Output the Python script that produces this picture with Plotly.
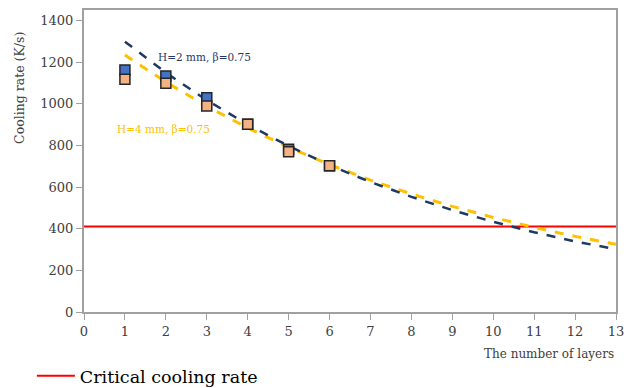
import plotly.graph_objects as go

layers = [1, 2, 3, 4, 5, 6]
h2_points = [1162, 1133, 1029, 902, 782, 702]
h4_points = [1117, 1098, 989, 902, 770, 702]

fit_x = [1, 2, 3, 4, 5, 6, 7, 8, 9, 10, 11, 12, 13]
h2_fit = [1298, 1149, 1017, 900, 797, 705, 624, 553, 489, 433, 383, 339, 301]
h4_fit = [1234, 1104, 988, 884, 791, 708, 633, 567, 507, 454, 406, 363, 325]

critical_x = [0, 13]
critical_rate = [410, 410]

FONT = "DejaVu Serif"
GRAY = "#404040"

fig = go.Figure()
fig.add_trace(go.Scatter(x=critical_x, y=critical_rate, mode="lines",
                         line=dict(color="#FF0000", width=2),
                         name="Critical cooling rate", showlegend=True))
fig.add_trace(go.Scatter(x=fit_x, y=h4_fit, mode="lines",
                         line=dict(color="#FFC000", width=3, dash="dash"),
                         showlegend=False))
fig.add_trace(go.Scatter(x=fit_x, y=h2_fit, mode="lines",
                         line=dict(color="#1F3864", width=2.5, dash="dash"),
                         showlegend=False))
fig.add_trace(go.Scatter(x=layers, y=h2_points, mode="markers",
                         marker=dict(symbol="square", size=10, color="#4472C4",
                                     line=dict(color="#262626", width=1.5)),
                         showlegend=False))
fig.add_trace(go.Scatter(x=layers, y=h4_points, mode="markers",
                         marker=dict(symbol="square", size=10, color="#F4B183",
                                     line=dict(color="#262626", width=1.5)),
                         showlegend=False))

fig.add_annotation(x=1.75, y=1224, xref="x", yref="y", text="H=2 mm, β=0.75",
                   showarrow=False, xanchor="left",
                   font=dict(family=FONT, size=10.5, color="#1F3864"))
fig.add_annotation(x=0.76, y=878, xref="x", yref="y", text="H=4 mm, β=0.75",
                   showarrow=False, xanchor="left",
                   font=dict(family=FONT, size=10.5, color="#FFC000"))
fig.add_annotation(x=1.0, y=-0.139, xref="paper", yref="paper",
                   text="The number of layers", showarrow=False,
                   xanchor="right", yanchor="middle",
                   font=dict(family=FONT, size=12, color=GRAY))
fig.add_annotation(x=-0.1203, y=0.742, xref="paper", yref="paper",
                   text="Cooling rate (K/s)", showarrow=False, textangle=-90,
                   xanchor="center", yanchor="middle",
                   font=dict(family=FONT, size=12.5, color=GRAY))

fig.update_layout(
    width=625, height=380,
    margin=dict(l=76, r=17, t=2, b=76, autoexpand=False),
    paper_bgcolor="white", plot_bgcolor="white",
    font=dict(family=FONT, size=13, color=GRAY),
    legend=dict(orientation="h", x=-0.098, y=-0.152, xanchor="left", yanchor="top",
                font=dict(family=FONT, size=17.5, color="#000000"),
                bgcolor="rgba(0,0,0,0)", itemwidth=38),
)
fig.update_xaxes(range=[0, 13], dtick=1, showgrid=False, zeroline=False,
                 showline=True, linecolor="#A0A0A0", linewidth=2, mirror=True,
                 ticks="outside", tickcolor="#A0A0A0", ticklen=6,
                 tickfont=dict(family=FONT, size=13, color=GRAY), automargin=False)
fig.update_yaxes(range=[0, 1450], tickvals=[0, 200, 400, 600, 800, 1000, 1200, 1400],
                 showgrid=False, zeroline=False,
                 showline=True, linecolor="#A0A0A0", linewidth=2, mirror=True,
                 ticks="outside", tickcolor="#A0A0A0", ticklen=6,
                 tickfont=dict(family=FONT, size=13, color=GRAY), automargin=False)

fig.write_html("out.html")
